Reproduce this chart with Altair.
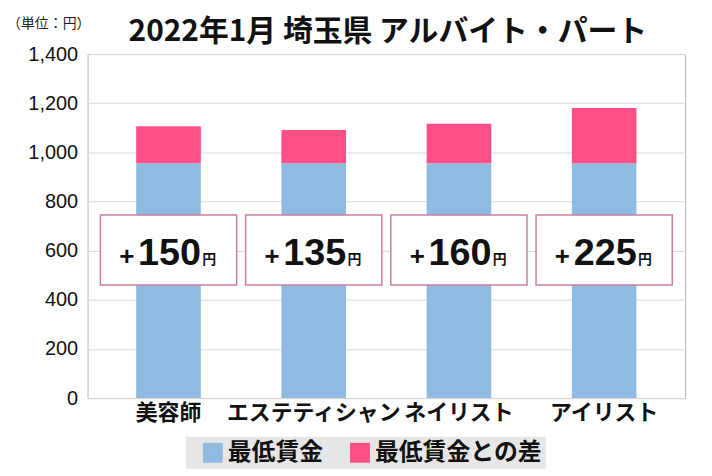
import altair as alt
import pandas as pd

categories = ["美容師", "エステティシャン", "ネイリスト", "アイリスト"]
min_wage = [956, 956, 956, 956]
diff = [150, 135, 160, 225]
series_names = ["最低賃金", "最低賃金との差"]
series_colors = ["#8fbbe0", "#ff4f86"]
y_ticks = [0, 200, 400, 600, 800, 1000, 1200, 1400]
title_text = "2022年1月 埼玉県 アルバイト・パート"
unit_text = "（単位：円）"

rows = []
for c, m, d in zip(categories, min_wage, diff):
    rows.append({"cat": c, "series": series_names[0], "value": m, "order": 0})
    rows.append({"cat": c, "series": series_names[1], "value": d, "order": 1})
bars_df = pd.DataFrame(rows)
labels_df = pd.DataFrame({"cat": categories, "diff": diff})
labels_df["num"] = labels_df["diff"].astype(str)

JP = "Noto Sans CJK JP"
NUM_FONT = "Liberation Sans"

x_enc = alt.X(
    "cat:N",
    sort=categories,
    scale=alt.Scale(paddingInner=0.555, paddingOuter=0.335),
    axis=alt.Axis(
        title=None, labelAngle=0, ticks=False, domain=False,
        labelFont=JP, labelFontSize=22, labelFontWeight="bold",
        labelColor="#111111", labelPadding=5,
    ),
)
y_scale = alt.Scale(domain=[0, 1400], nice=False)

bars = alt.Chart(bars_df).mark_bar(width=65).encode(
    x=x_enc,
    y=alt.Y(
        "value:Q", stack="zero", scale=y_scale,
        axis=alt.Axis(
            title=None, values=y_ticks, format=",d", ticks=False, domain=False,
            labelFont="Liberation Sans", labelFontSize=20, labelColor="#111111",
            labelPadding=10, gridColor="#d9d9d9", gridWidth=1,
        ),
    ),
    color=alt.Color(
        "series:N",
        scale=alt.Scale(domain=series_names, range=series_colors),
        legend=alt.Legend(
            title=" ", titleOrient="left", titleFontSize=1, titlePadding=11,
            orient="none", legendX=99, legendY=385, direction="horizontal",
            fillColor="#e6e6e6", padding=4, symbolType="square", symbolSize=400,
            symbolStrokeWidth=0, symbolOpacity=1, labelFont=JP, labelFontSize=24,
            labelFontWeight="bold", labelColor="#111111", labelOffset=3,
            columnPadding=25, labelLimit=400,
            labelExpr="datum.label == '最低賃金との差' ? datum.label + '  ' : datum.label",
        ),
    ),
    order=alt.Order("order:Q"),
)

boxes = alt.Chart(labels_df).mark_bar(
    width=137, fill="white", stroke="#cc7fa3", strokeWidth=1.5
).encode(x=x_enc, y=alt.datum(745), y2=alt.datum(460))

plus = alt.Chart(labels_df).mark_text(
    text="+", dx=-42, fontSize=26, font="Liberation Sans", fontWeight="bold",
    baseline="alphabetic", align="center", color="#111111",
).encode(x=x_enc, y=alt.datum(543))

nums = alt.Chart(labels_df).mark_text(
    dx=1, fontSize=38, font=NUM_FONT, fontWeight="bold",
    baseline="alphabetic", align="center", color="#111111",
).encode(x=x_enc, y=alt.datum(541), text="num:N")

yen = alt.Chart(labels_df).mark_text(
    text="円", dx=34, fontSize=14, font=JP, fontWeight="bold",
    baseline="alphabetic", align="left", color="#111111",
).encode(x=x_enc, y=alt.datum(545))

unit = alt.Chart(pd.DataFrame({"t": [unit_text]})).mark_text(
    align="left", baseline="middle", fontSize=14, font=JP, color="#222222",
).encode(x=alt.value(-81), y=alt.value(-30), text="t:N")

title = alt.Chart(pd.DataFrame({"t": [title_text]})).mark_text(
    align="center", baseline="alphabetic", fontSize=30, font=JP,
    fontWeight="bold", color="#111111",
).encode(x=alt.value(302), y=alt.value(-13), text="t:N")

chart = alt.layer(bars, boxes, plus, nums, yen, unit, title).properties(
    width=601,
    height=346,
    padding={"left": 80, "top": 45, "right": 19, "bottom": 71},
    autosize=alt.AutoSizeParams(type="none"),
    background="white",
).configure_view(stroke="#b4b4b4", strokeWidth=1)

chart.save("out.html", embed_options={"renderer": "svg", "actions": False})
